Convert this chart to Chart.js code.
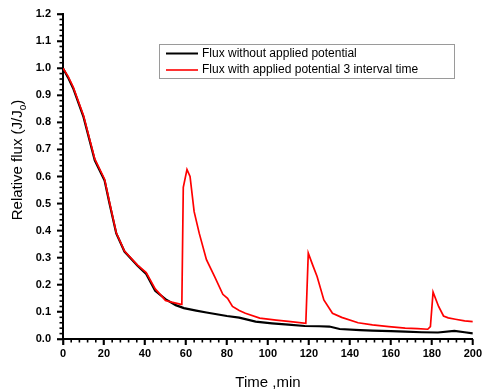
<!DOCTYPE html>
<html>
<head>
<meta charset="utf-8">
<script src="https://cdn.jsdelivr.net/npm/chart.js@4.4.1/dist/chart.umd.min.js"></script>
<style>
html,body{margin:0;padding:0;background:#fff;}
#wrap{width:484px;height:392px;position:relative;}
</style>
</head>
<body>
<div id="wrap"><canvas id="c" width="484" height="392"></canvas></div>
<script>
// ---- data ----
const seriesLabels = ["Flux without applied potential", "Flux with applied potential 3 interval time"];
const noPotTime = [0, 2.5, 5, 10, 15.5, 20.3, 22.7, 26, 30, 36.5, 40.6, 45, 50, 55, 59, 65, 70, 80, 86, 94, 102, 110, 118, 125, 130, 135, 145, 151, 160, 167, 175, 183, 191, 196, 200];
const noPotFlux = [1.0, 0.965, 0.925, 0.82, 0.66, 0.585, 0.5, 0.39, 0.323, 0.27, 0.24, 0.178, 0.147, 0.125, 0.114, 0.105, 0.098, 0.085, 0.079, 0.064, 0.058, 0.053, 0.048, 0.047, 0.046, 0.037, 0.033, 0.031, 0.029, 0.027, 0.025, 0.024, 0.03, 0.025, 0.021];
const potTime = [0, 2.5, 5, 10, 15.5, 20.3, 22.7, 26, 30, 36.5, 40.6, 45, 48, 50, 53, 57.6, 58, 58.7, 60.5, 62, 64, 66.5, 70, 74, 78, 80.3, 82.7, 86, 89, 96, 104, 110, 118.5, 119.7, 122, 124, 127.3, 131.5, 136, 144, 151, 159, 167, 173, 178, 179.3, 180.6, 183.3, 185.7, 188, 191.5, 196, 200];
const potFlux = [1.0, 0.97, 0.93, 0.825, 0.665, 0.59, 0.505, 0.392, 0.325, 0.272, 0.245, 0.185, 0.16, 0.142, 0.136, 0.128, 0.13, 0.56, 0.626, 0.6, 0.47, 0.39, 0.293, 0.23, 0.165, 0.15, 0.12, 0.105, 0.095, 0.077, 0.07, 0.065, 0.058, 0.317, 0.27, 0.231, 0.144, 0.095, 0.08, 0.06, 0.052, 0.046, 0.04, 0.038, 0.036, 0.046, 0.173, 0.12, 0.085, 0.078, 0.073, 0.067, 0.064];
const xTicks = [0, 20, 40, 60, 80, 100, 120, 140, 160, 180, 200];
const yTicks = [0.0, 0.1, 0.2, 0.3, 0.4, 0.5, 0.6, 0.7, 0.8, 0.9, 1.0, 1.1, 1.2];
const xTitle = "Time ,min";
const yTitleMain = "Relative flux (J/J";
const yTitleSub = "o";
const yTitleEnd = ")";

const toXY = (xs, ys) => xs.map((x, i) => ({x: x, y: ys[i]}));
const FONT = "'Liberation Sans', Arial, sans-serif";

const extras = {
  id: 'extras',
  afterDraw(chart) {
    const ctx = chart.ctx;
    const xs = chart.scales.x, ys = chart.scales.y;
    const area = chart.chartArea;
    ctx.save();
    ctx.strokeStyle = '#000';
    ctx.lineWidth = 1.6;
    ctx.lineCap = 'butt';
    const bottom = area.bottom;
    const left = area.left;
    // ticks x (minor every 4, major every 20)
    for (let v = 0; v <= 200; v += 4) {
      const major = v % 20 === 0;
      const px = xs.getPixelForValue(v);
      ctx.beginPath(); ctx.moveTo(px, bottom); ctx.lineTo(px, bottom + (major ? 6 : 3.5)); ctx.stroke();
    }
    // ticks y (minor every 0.02, major every 0.1)
    for (let k = 0; k <= 60; k++) {
      const major = k % 5 === 0;
      const py = ys.getPixelForValue(k * 0.02);
      ctx.beginPath(); ctx.moveTo(left, py); ctx.lineTo(left - (major ? 6 : 3.5), py); ctx.stroke();
    }
    // y title with subscript
    ctx.fillStyle = '#000';
    ctx.font = '15px ' + FONT;
    const w1 = ctx.measureText(yTitleMain).width;
    ctx.font = '10px ' + FONT;
    const w2 = ctx.measureText(yTitleSub).width;
    ctx.font = '15px ' + FONT;
    const w3 = ctx.measureText(yTitleEnd).width;
    const total = w1 + w2 + w3;
    ctx.translate(22, 160);
    ctx.rotate(-Math.PI / 2);
    ctx.textBaseline = 'alphabetic';
    ctx.textAlign = 'left';
    let x0 = -total / 2;
    ctx.fillText(yTitleMain, x0, 0);
    ctx.font = '10px ' + FONT;
    ctx.fillText(yTitleSub, x0 + w1, 4);
    ctx.font = '15px ' + FONT;
    ctx.fillText(yTitleEnd, x0 + w1 + w2, 0);
    ctx.restore();

    // legend
    ctx.save();
    const lx = 159.5, ly = 44.5, lw = 295, lh = 34;
    ctx.strokeStyle = '#9a9a9a';
    ctx.lineWidth = 1;
    ctx.fillStyle = '#fff';
    ctx.fillRect(lx, ly, lw, lh);
    ctx.strokeRect(lx, ly, lw, lh);
    ctx.font = '12px ' + FONT;
    ctx.textBaseline = 'middle';
    ctx.textAlign = 'left';
    const rows = [53.5, 70];
    chart.data.datasets.forEach((ds, i) => {
      ctx.strokeStyle = ds.borderColor;
      ctx.lineWidth = i === 0 ? 2 : 1.6;
      ctx.beginPath(); ctx.moveTo(166, rows[i]); ctx.lineTo(198, rows[i]); ctx.stroke();
      ctx.fillStyle = '#000';
      ctx.fillText(ds.label, 202, rows[i]);
    });
    ctx.restore();
  }
};

new Chart(document.getElementById('c'), {
  type: 'line',
  data: {
    datasets: [
      { label: seriesLabels[0], data: toXY(noPotTime, noPotFlux), borderColor: '#000000', borderWidth: 2.2, pointRadius: 0, tension: 0, fill: false, order: 2 },
      { label: seriesLabels[1], data: toXY(potTime, potFlux), borderColor: '#ff0000', borderWidth: 1.7, pointRadius: 0, tension: 0, fill: false, order: 1 }
    ]
  },
  options: {
    responsive: false,
    animation: false,
    events: [],
    layout: { padding: { left: 0, top: 14, right: 11, bottom: 0 } },
    plugins: { legend: { display: false }, tooltip: { enabled: false }, title: { display: false } },
    scales: {
      x: {
        type: 'linear', min: 0, max: 200,
        afterBuildTicks: s => { s.ticks = xTicks.map(v => ({value: v})); },
        afterFit: s => { s.height = 392 - 339; },
        grid: { drawOnChartArea: false, drawTicks: true, tickLength: 6, tickColor: '#000', tickWidth: 1.6 },
        border: { display: true, color: '#000', width: 2 },
        ticks: { color: '#000', font: { family: FONT, size: 11, weight: 'bold' }, padding: 2, maxRotation: 0, callback: v => String(v) },
        title: { display: true, text: xTitle, color: '#000', font: { family: FONT, size: 15 }, padding: { top: 9, bottom: 0 } }
      },
      y: {
        type: 'linear', min: 0, max: 1.2,
        afterBuildTicks: s => { s.ticks = yTicks.map(v => ({value: v})); },
        afterFit: s => { s.width = 63; },
        grid: { drawOnChartArea: false, drawTicks: true, tickLength: 6, tickColor: '#000', tickWidth: 1.6 },
        border: { display: true, color: '#000', width: 2 },
        ticks: { color: '#000', font: { family: FONT, size: 11, weight: 'bold' }, padding: 6, callback: v => Number(v).toFixed(1) }
      }
    }
  },
  plugins: [extras]
});
</script>
</body>
</html>
